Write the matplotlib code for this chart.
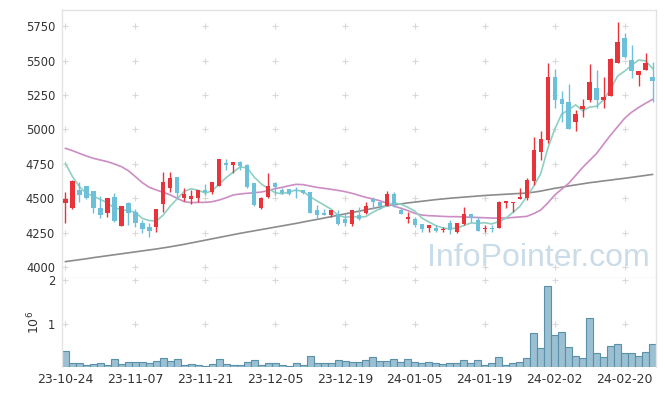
import matplotlib

matplotlib.use("Agg")

import matplotlib.pyplot as plt

# trading days shown on the x axis (every 10th bar is labelled)
tick_idx = [0, 10, 20, 30, 40, 50, 60, 70, 80]
tick_labels = ["23-10-24", "23-11-07", "23-11-21", "23-12-05", "23-12-19",
               "24-01-05", "24-01-19", "24-02-02", "24-02-20"]

opens = [4468, 4431, 4560, 4590, 4553, 4426, 4395, 4506, 4300, 4465,
         4402, 4317, 4288, 4293, 4455, 4577, 4652, 4499, 4494, 4504,
         4560, 4543, 4591, 4748, 4744, 4763, 4745, 4608, 4431, 4511,
         4613, 4560, 4564, 4560, 4560, 4543, 4414, 4395, 4378, 4385,
         4349, 4312, 4375, 4395, 4494, 4472, 4446, 4530, 4417, 4351,
         4349, 4310, 4286, 4283, 4269, 4322, 4252, 4310, 4385, 4342,
         4278, 4286, 4286, 4467, 4463, 4497, 4499, 4627, 4838, 4923,
         5383, 5221, 5197, 5056, 5148, 5214, 5299, 5214, 5243, 5486,
         5662, 5505, 5396, 5432, 5383]
highs = [4547, 4630, 4620, 4592, 4555, 4516, 4504, 4535, 4445, 4470,
         4419, 4342, 4317, 4425, 4688, 4688, 4655, 4577, 4560, 4562,
         4601, 4617, 4788, 4782, 4765, 4768, 4748, 4610, 4511, 4681,
         4615, 4577, 4569, 4584, 4562, 4545, 4448, 4419, 4414, 4414,
         4385, 4416, 4438, 4475, 4506, 4482, 4555, 4543, 4438, 4402,
         4366, 4312, 4305, 4303, 4293, 4342, 4320, 4434, 4388, 4366,
         4305, 4305, 4480, 4482, 4472, 4577, 4644, 4942, 4991, 5480,
         5437, 5279, 5330, 5141, 5219, 5475, 5432, 5379, 5520, 5778,
         5698, 5614, 5425, 5553, 5488]
lows = [4317, 4425, 4475, 4495, 4395, 4354, 4366, 4330, 4298, 4305,
        4288, 4245, 4215, 4255, 4402, 4547, 4499, 4482, 4458, 4475,
        4523, 4528, 4588, 4705, 4685, 4703, 4572, 4443, 4421, 4505,
        4523, 4528, 4523, 4499, 4528, 4390, 4354, 4378, 4361, 4305,
        4300, 4300, 4343, 4385, 4419, 4421, 4443, 4438, 4385, 4317,
        4293, 4252, 4252, 4252, 4252, 4237, 4250, 4305, 4329, 4262,
        4252, 4252, 4280, 4431, 4402, 4497, 4487, 4596, 4778, 4899,
        5153, 5056, 5001, 4991, 5088, 5202, 5153, 5153, 5243, 5486,
        5520, 5371, 5318, 5432, 5202]
closes = [4494, 4625, 4523, 4500, 4431, 4378, 4499, 4337, 4441, 4395,
          4317, 4274, 4264, 4419, 4615, 4644, 4540, 4530, 4516, 4560,
          4543, 4615, 4785, 4745, 4763, 4733, 4580, 4451, 4499, 4589,
          4584, 4535, 4530, 4555, 4540, 4395, 4378, 4380, 4414, 4312,
          4322, 4414, 4346, 4443, 4470, 4443, 4530, 4450, 4388, 4361,
          4303, 4278, 4303, 4262, 4274, 4266, 4317, 4385, 4358, 4264,
          4286, 4274, 4470, 4480, 4472, 4506, 4632, 4850, 4930, 5383,
          5214, 5185, 5001, 5112, 5170, 5347, 5214, 5233, 5512, 5633,
          5529, 5425, 5425, 5485, 5354]

ma5 = [4753, 4657, 4584, 4535, 4515, 4491, 4466, 4429, 4417, 4410,
       4398, 4353, 4338, 4334, 4378, 4443, 4496, 4550, 4569, 4558,
       4538, 4553, 4604, 4650, 4690, 4728, 4721, 4654, 4605, 4570,
       4541, 4532, 4547, 4559, 4549, 4511, 4480, 4450, 4421, 4376,
       4361, 4368, 4362, 4367, 4399, 4423, 4446, 4467, 4456, 4434,
       4406, 4356, 4327, 4301, 4284, 4277, 4284, 4301, 4320, 4318,
       4322, 4313, 4330, 4355, 4396, 4440, 4512, 4588, 4678, 4860,
       5002, 5112, 5143, 5179, 5136, 5163, 5169, 5215, 5295, 5388,
       5424, 5466, 5505, 5499, 5444]
ma20 = [4863, 4846, 4826, 4807, 4790, 4778, 4766, 4749, 4730, 4700,
        4657, 4613, 4579, 4560, 4543, 4524, 4499, 4475, 4468, 4470,
        4470, 4475, 4487, 4504, 4524, 4531, 4536, 4540, 4545, 4555,
        4570, 4579, 4591, 4601, 4599, 4589, 4579, 4572, 4565, 4557,
        4548, 4536, 4521, 4506, 4494, 4482, 4463, 4443, 4427, 4410,
        4390, 4378, 4373, 4371, 4368, 4366, 4366, 4364, 4362, 4360,
        4358, 4356, 4355, 4356, 4360, 4364, 4368, 4388, 4414, 4465,
        4523, 4566, 4608, 4666, 4724, 4775, 4826, 4893, 4959, 5020,
        5081, 5125, 5160, 5190, 5219]
ma120 = [4039, 4046, 4053, 4060, 4068, 4075, 4082, 4089, 4096, 4103,
         4110, 4117, 4124, 4131, 4139, 4147, 4156, 4165, 4175, 4185,
         4195, 4205, 4215, 4225, 4235, 4245, 4254, 4263, 4272, 4281,
         4290, 4299, 4308, 4317, 4327, 4337, 4346, 4356, 4366, 4376,
         4386, 4396, 4406, 4416, 4426, 4436, 4445, 4452, 4459, 4466,
         4472, 4478, 4484, 4490, 4495, 4500, 4504, 4508, 4512, 4516,
         4520, 4523, 4526, 4529, 4532, 4535, 4538, 4544, 4552, 4562,
         4572, 4580, 4589, 4597, 4605, 4613, 4619, 4626, 4632, 4639,
         4645, 4652, 4659, 4666, 4673]

volume = [0.385, 0.10, 0.10, 0.055, 0.077, 0.10, 0.055, 0.19, 0.077, 0.123,
          0.123, 0.123, 0.10, 0.146, 0.215, 0.146, 0.19, 0.055, 0.077, 0.055,
          0.03, 0.077, 0.19, 0.077, 0.055, 0.055, 0.123, 0.17, 0.055, 0.10,
          0.10, 0.055, 0.03, 0.10, 0.055, 0.26, 0.10, 0.10, 0.10, 0.17,
          0.146, 0.123, 0.123, 0.17, 0.24, 0.146, 0.146, 0.19, 0.123, 0.19,
          0.123, 0.10, 0.123, 0.10, 0.077, 0.10, 0.10, 0.17, 0.10, 0.17,
          0.055, 0.10, 0.24, 0.055, 0.10, 0.123, 0.215, 0.79, 0.447, 1.875,
          0.746, 0.815, 0.47, 0.26, 0.215, 1.137, 0.33, 0.24, 0.49, 0.54,
          0.33, 0.33, 0.26, 0.35, 0.54]  # millions of shares

price_ticks = [4000, 4250, 4500, 4750, 5000, 5250, 5500, 5750]
vol_ticks = [1, 2]

UP = "#e8333a"
DOWN = "#6cc0da"
GRID = "#d9d9d9"
SPINE = "#e3e3e3"
TXT = "#333333"

plt.rcParams["font.family"] = ["DejaVu Sans"]

fig = plt.figure(figsize=(6.65, 3.96), dpi=100)
ax = fig.add_axes([0.0932, 0.298, 0.8933, 0.6768])
axv = fig.add_axes([0.0932, 0.072, 0.8933, 0.226], sharex=ax)

n = len(closes)
xs = list(range(n))

# watermark
ax.text(0.99, 0.045, "InfoPointer.com", transform=ax.transAxes, ha="right", va="baseline",
        fontsize=23, color="#c9dce8", family=["Liberation Sans", "DejaVu Sans"], zorder=0)

# grid drawn as little crosses at intersections
for t in tick_idx:
    ax.scatter([t] * len(price_ticks), price_ticks, marker="+", s=14, color=GRID, lw=0.8, zorder=1)
    axv.scatter([t] * len(vol_ticks), vol_ticks, marker="+", s=14, color=GRID, lw=0.8, zorder=1)

ax.plot(xs, ma120, color="#8c8c8c", lw=1.2, zorder=2)
ax.plot(xs, ma20, color="#cc8cc4", lw=1.2, zorder=2)
ax.plot(xs, ma5, color="#8fd0c2", lw=1.2, zorder=2)

for i in xs:
    o, h, l, c = opens[i], highs[i], lows[i], closes[i]
    col = UP if c >= o else DOWN
    ax.vlines(i, l, h, color=col, lw=1.0, zorder=3)
    body = max(abs(c - o), 8)
    ax.bar(i, body, bottom=min(o, c), width=0.62, color=col, lw=0, zorder=4)

axv.bar(xs, volume, width=1.0, color="#9bc0d1", edgecolor="#5a90aa", lw=0.8, zorder=2)

ax.set_xlim(-0.5, n - 0.5)
ax.set_ylim(3920, 5869)
axv.set_ylim(0, 2.05)

ax.set_yticks(price_ticks)
axv.set_yticks(vol_ticks)
axv.set_xticks(tick_idx)
axv.set_xticklabels(tick_labels)
ax.tick_params(axis="x", which="both", bottom=False, labelbottom=False)
ax.tick_params(axis="y", length=0, pad=5, labelsize=8.3, labelcolor=TXT)
axv.tick_params(axis="y", length=0, pad=5, labelsize=8.3, labelcolor=TXT)
axv.tick_params(axis="x", length=0, pad=4, labelsize=9, labelcolor=TXT)
axv.set_ylabel(r"$10^6$", fontsize=9, color=TXT, labelpad=4)

for a in (ax, axv):
    for s in a.spines.values():
        s.set_color(SPINE)
        s.set_linewidth(1.0)
axv.spines["bottom"].set_visible(False)
axv.spines["top"].set_visible(False)

fig.savefig("out.png", dpi=100)
